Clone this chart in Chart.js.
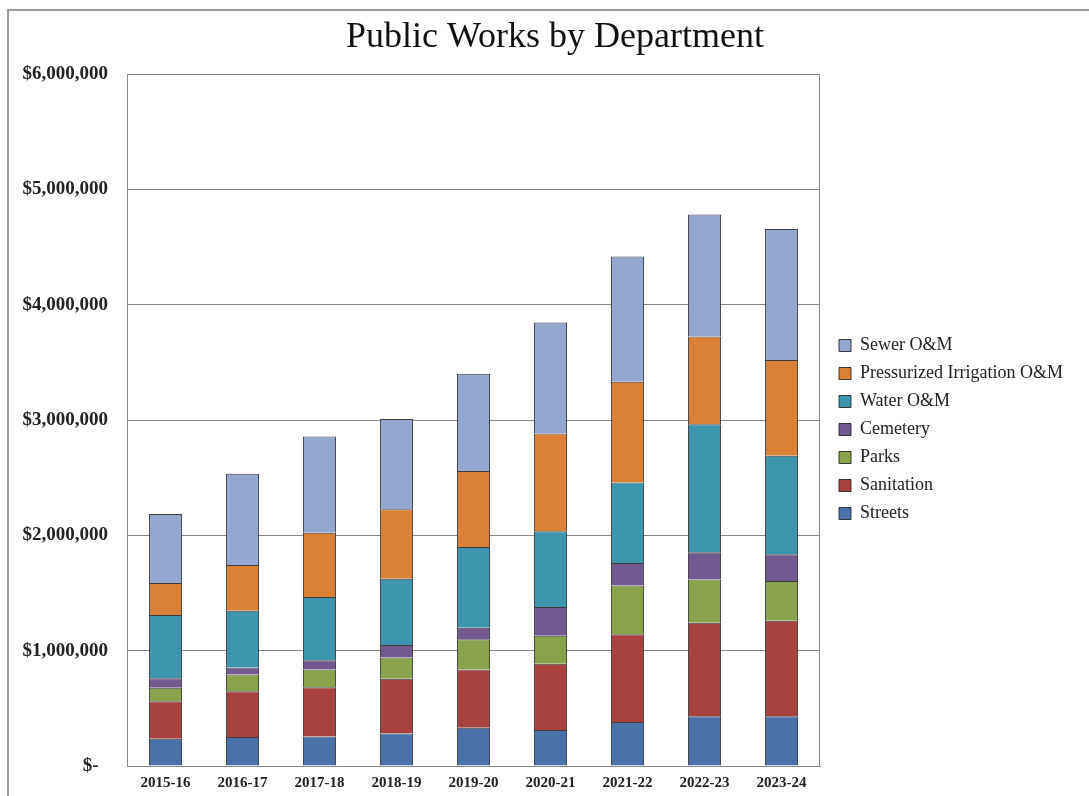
<!DOCTYPE html>
<html>
<head>
<meta charset="utf-8">
<script src="https://cdn.jsdelivr.net/npm/chart.js@4.4.1/dist/chart.umd.min.js"></script>
<style>
  html, body { margin: 0; padding: 0; background: #fff; overflow: hidden; }
  #frame {
    position: absolute; left: 7px; top: 9px;
    width: 1200px; height: 900px;
    border-left: 2px solid #9a9a9a; border-top: 2px solid #9a9a9a;
  }
  #chart { position: absolute; left: 1px; top: 0; }
</style>
</head>
<body>
<div id="frame"><canvas id="chart" width="1090" height="789"></canvas></div>
<script>
const years = ['2015-16', '2016-17', '2017-18', '2018-19', '2019-20', '2020-21', '2021-22', '2022-23', '2023-24'];

// values, in dollars
const streets    = [236000, 252000, 256000, 282000, 332000, 312000, 382000, 432000, 432000];
const sanitation = [325000, 396000, 428000, 475000, 505000, 575000, 761000, 811000, 827000];
const parks      = [117000, 146000, 153000, 183000, 263000, 243000, 422000, 375000, 346000];
const cemetery   = [83000, 60000, 80000, 110000, 99000, 249000, 196000, 236000, 232000];
const water      = [548000, 492000, 548000, 575000, 701000, 658000, 697000, 1109000, 854000];
const irrigation = [279000, 398000, 558000, 601000, 658000, 847000, 874000, 761000, 831000];
const sewer      = [598000, 791000, 834000, 784000, 844000, 963000, 1087000, 1060000, 1136000];

const yTicks = [0, 1000000, 2000000, 3000000, 4000000, 5000000, 6000000];

const serif = "'Liberation Serif', 'Times New Roman', serif";

function series(label, data, color) {
    return {
        label: label,
        data: data,
        backgroundColor: color,
        borderColor: 'rgba(40,40,40,0.9)',
        borderWidth: 1,
        barPercentage: 0.43,
        categoryPercentage: 1.0
    };
}

// box around the plot area, and nudge the legend a bit
const plotFrame = {
    id: 'plotFrame',
    afterInit(chart) {
        const legend = chart.legend;
        const origFit = legend.fit;
        legend.fit = function () {
            origFit.call(this);
            this.width = 280;
        };
    },
    afterLayout(chart) {
        const lg = chart.legend;
        lg.left += 9; lg.right += 9;
        lg.top += 24; lg.bottom += 24;
    },
    afterDraw(chart) {
        const a = chart.chartArea;
        const ctx = chart.ctx;
        ctx.save();
        ctx.strokeStyle = '#8a8a8a';
        ctx.lineWidth = 1;
        ctx.strokeRect(Math.round(a.left) + 0.5, Math.round(a.top) + 0.5,
            Math.round(a.right - a.left) - 1, Math.round(a.bottom - a.top));
        ctx.restore();
    }
};

const ctx = document.getElementById('chart').getContext('2d');
new Chart(ctx, {
    type: 'bar',
    data: {
        labels: years,
        datasets: [
            series('Streets', streets, '#4a72a8'),
            series('Sanitation', sanitation, '#a8423f'),
            series('Parks', parks, '#88a34c'),
            series('Cemetery', cemetery, '#725990'),
            series('Water O&M', water, '#3d96ae'),
            series('Pressurized Irrigation O&M', irrigation, '#da8137'),
            series('Sewer O&M', sewer, '#93a7cf')
        ]
    },
    options: {
        responsive: false,
        animation: false,
        layout: { padding: { left: 0, right: 0, top: 0, bottom: 0 } },
        plugins: {
            title: {
                display: true,
                text: 'Public Works by Department',
                color: '#111',
                font: { family: serif, size: 36, weight: 'normal' },
                padding: { top: 5, bottom: 15 }
            },
            legend: {
                position: 'right',
                reverse: true,
                labels: {
                    color: '#222',
                    font: { family: serif, size: 18 },
                    boxWidth: 12,
                    boxHeight: 12,
                    padding: 10
                }
            },
            tooltip: { enabled: false }
        },
        scales: {
            x: {
                stacked: true,
                grid: { display: false, drawTicks: false },
                border: { color: '#8a8a8a' },
                ticks: {
                    color: '#222',
                    padding: 8,
                    font: { family: serif, size: 15, weight: 'bold' }
                }
            },
            y: {
                stacked: true,
                min: 0,
                max: 6000000,
                afterFit(scale) { scale.width = 117; },
                afterBuildTicks(scale) { scale.ticks = yTicks.map(v => ({ value: v })); },
                grid: { color: '#8a8a8a', drawTicks: false },
                border: { color: '#8a8a8a' },
                ticks: {
                    color: '#222',
                    padding: 19,
                    font: { family: serif, size: 19, weight: 'bold' },
                    callback: v => v === 0 ? '$-  ' : '$' + v.toLocaleString('en-US')
                }
            }
        }
    },
    plugins: [plotFrame]
});
</script>
</body>
</html>
